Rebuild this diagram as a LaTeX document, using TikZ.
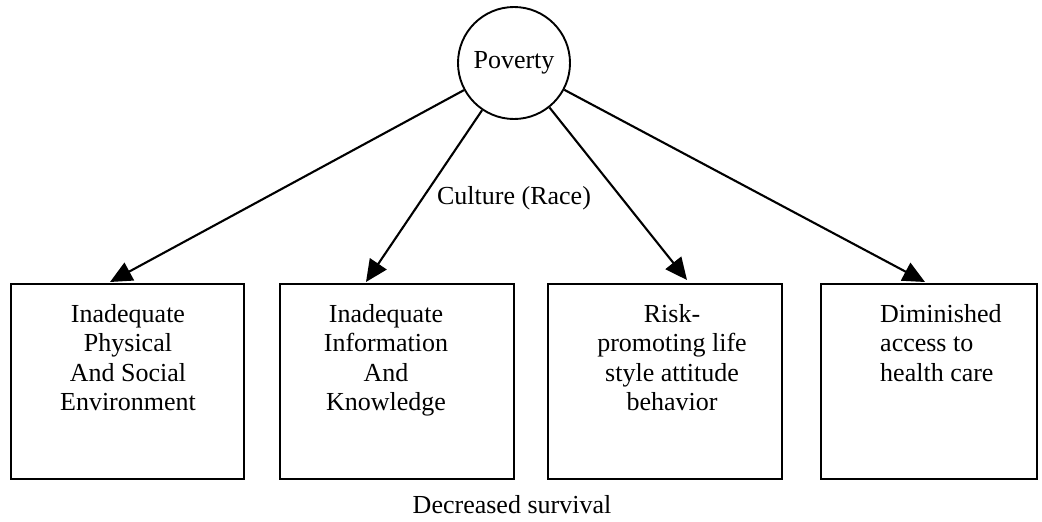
\documentclass[tikz,border=0pt]{standalone}
\usepackage{fontspec}
\setmainfont{Liberation Serif}
\usetikzlibrary{arrows.meta}
\begin{document}
\begin{tikzpicture}[x=1pt,y=-1pt,
  every node/.style={font=\fontsize{26}{29.5}\selectfont, inner sep=0pt},
  boxn/.style={draw, line width=2.2pt, rectangle, anchor=north west},
  lbl/.style={align=center, anchor=north},
  arr/.style={line width=2.1pt, -{Triangle[length=22pt,width=20pt]}}]
\useasboundingbox (0,0) rectangle (1042,522);
\node[draw, circle, line width=1.9pt, minimum size=112pt] (pov) at (514,63) {Poverty};
\node[boxn, minimum width=233pt, minimum height=195pt] (b1) at (10,283) {};
\node[boxn, minimum width=234pt, minimum height=195pt] (b2) at (279,283) {};
\node[boxn, minimum width=234pt, minimum height=195pt] (b3) at (547,283) {};
\node[boxn, minimum width=216pt, minimum height=195pt] (b4) at (820,283) {};
\node[lbl] (t1) at (128,304) {Inadequate\\Physical\\And Social\\Environment};
\node[lbl] (t2) at (386,304) {Inadequate\\Information\\And\\Knowledge};
\node[lbl] (t3) at (672,304) {Risk-\\promoting life\\style attitude\\behavior};
\node[lbl, align=left, anchor=north west] (t4) at (880,304) {Diminished\\access to\\health care};
\node (cult) at (514,198) {Culture (Race)};
\node (dec) at (512,505) {Decreased survival};
\coordinate (e1) at (110,282);
\coordinate (e2) at (366,282);
\coordinate (e3) at (687,280);
\coordinate (e4) at (925,282);
\draw[arr] (pov) -- (e1);
\draw[arr] (pov) -- (e2);
\draw[arr] (pov) -- (e3);
\draw[arr] (pov) -- (e4);
\end{tikzpicture}
\end{document}
